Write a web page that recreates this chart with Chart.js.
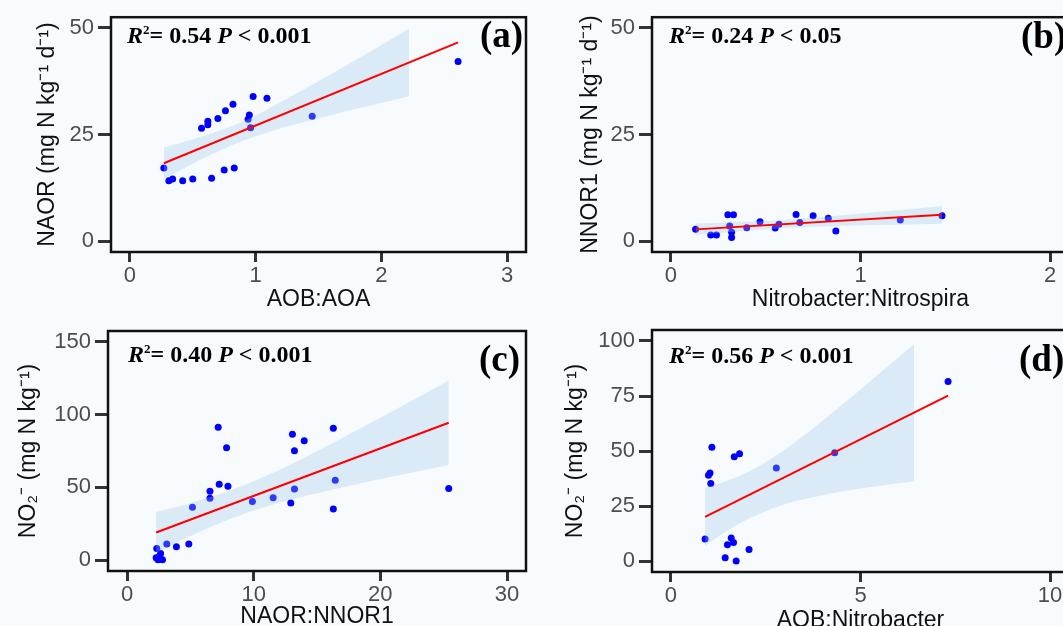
<!DOCTYPE html>
<html>
<head>
<meta charset="utf-8">
<script src="https://cdn.jsdelivr.net/npm/chart.js@4.4.1/dist/chart.umd.min.js"></script>
<style>
  html, body { margin: 0; padding: 0; background: #f8fbfd; overflow: hidden; width: 1063px; height: 626px; }
  canvas { position: absolute; }
</style>
</head>
<body>
<canvas id="panelA" width="530" height="313" style="left:0;top:0"></canvas>
<canvas id="panelB" width="545" height="313" style="left:530px;top:0"></canvas>
<canvas id="panelC" width="530" height="320" style="left:0;top:310px"></canvas>
<canvas id="panelD" width="545" height="324" style="left:530px;top:310px"></canvas>
<script>
// (a) NAOR vs AOB:AOA
const aobAoa = [0.27, 0.31, 0.34, 0.42, 0.50, 0.65, 0.75, 0.83, 0.57, 0.62, 0.62, 0.70, 0.76, 0.82, 0.94, 0.95, 0.96, 0.98, 1.09, 1.45, 2.61];
const naor   = [17.2, 14.2, 14.6, 14.2, 14.6, 14.8, 16.7, 17.2, 26.5, 28.1, 27.3, 28.8, 30.6, 32.1, 28.6, 29.6, 26.6, 33.9, 33.5, 29.3, 42.1];
const aFitX = [0.27, 2.61];
const aFitY = [18.3, 46.6];
const aBandX  = [0.27, 0.5, 0.82, 1.0, 1.25, 1.5, 1.75, 2.0, 2.22];
const aBandHi = [22.0, 23.9, 27.1, 29.5, 33.4, 37.5, 41.7, 46.0, 49.8];
const aBandLo = [14.6, 18.2, 22.6, 24.6, 26.9, 28.8, 30.7, 32.4, 34.0];
const aXTicks = [0, 1, 2, 3];
const aYTicks = [0, 25, 50];

// (b) NNOR1 vs Nitrobacter:Nitrospira
const nbNs  = [0.13, 0.21, 0.24, 0.30, 0.33, 0.31, 0.32, 0.32, 0.40, 0.47, 0.55, 0.57, 0.66, 0.68, 0.75, 0.83, 0.87, 1.21, 1.43];
const nnor1 = [2.8, 1.5, 1.5, 6.2, 6.2, 3.6, 2.1, 0.9, 3.2, 4.6, 3.1, 4.0, 6.3, 4.4, 6.0, 5.4, 2.4, 5.0, 6.0];
const bFitX = [0.13, 1.43];
const bFitY = [2.8, 6.2];
const bBandX  = [0.13, 0.35, 0.56, 0.8, 1.1, 1.43];
const bBandHi = [4.2, 4.5, 4.9, 5.7, 6.9, 8.3];
const bBandLo = [1.5, 2.3, 3.0, 3.5, 3.8, 4.1];
const bXTicks = [0, 1, 2];
const bYTicks = [0, 25, 50];

// (c) NO2- vs NAOR:NNOR1
const naorNnor = [2.30, 2.45, 2.55, 2.65, 2.80, 2.35, 3.14, 3.90, 4.88, 5.17, 6.55, 6.55, 7.20, 7.28, 7.86, 7.97, 9.90, 11.54, 12.93, 13.06, 13.22, 13.22, 13.99, 16.29, 16.29, 16.44, 25.40];
const no2C     = [1.6, 0.3, 2.5, 4.5, 0.2, 8.0, 11.0, 9.2, 11.0, 36.3, 47.4, 42.5, 91.4, 52.1, 77.2, 50.7, 40.2, 42.8, 39.3, 86.5, 75.1, 48.8, 82.0, 90.6, 35.1, 54.9, 49.3];
const cFitX = [2.3, 25.4];
const cFitY = [19.0, 94.4];
const cBandX  = [2.3, 5, 8.5, 12, 16, 20, 25.4];
const cBandHi = [33.0, 39.1, 49.0, 62.0, 79.3, 97.8, 123.4];
const cBandLo = [5.0, 16.5, 29.4, 39.4, 48.1, 55.8, 65.4];
const cXTicks = [0, 10, 20, 30];
const cYTicks = [0, 50, 100, 150];

// (d) NO2- vs AOB:Nitrobacter
const aobNb = [0.90, 0.99, 1.03, 1.05, 1.08, 1.43, 1.49, 1.59, 1.65, 1.67, 1.72, 1.81, 2.06, 2.78, 4.32, 7.31];
const no2D  = [10.0, 39.0, 40.0, 35.2, 51.7, 1.5, 7.4, 10.5, 8.4, 47.4, 0.0, 48.7, 5.2, 42.3, 49.2, 81.6];
const dFitX = [0.9, 7.31];
const dFitY = [20.1, 75.2];
const dBandX  = [0.9, 1.5, 2.06, 3, 4, 5, 6.42];
const dBandHi = [33.3, 36.6, 40.7, 50.6, 63.7, 77.9, 98.8];
const dBandLo = [6.9, 14.0, 19.3, 25.8, 29.9, 32.9, 36.4];
const dXTicks = [0, 5, 10];
const dYTicks = [0, 25, 50, 75, 100];

const SANS = "'Liberation Sans', Arial, sans-serif";
const SERIF = "'Liberation Serif', 'Times New Roman', serif";

const pts = (xs, ys) => xs.map((x, i) => ({ x: x, y: ys[i] }));

// box round the plot area, R2 text and panel letter
const panelPlugin = {
    id: 'panelDeco',
    afterDraw(chart, args, o) {
        const ctx = chart.ctx;
        const a = chart.chartArea;
        ctx.save();
        ctx.strokeStyle = '#111';
        ctx.lineWidth = 2.5;
        ctx.strokeRect(a.left, a.top, a.right - a.left, a.bottom - a.top);

        ctx.fillStyle = '#000';
        ctx.textBaseline = 'alphabetic';
        ctx.textAlign = 'left';
        const parts = [
            ['R', 'italic bold 24px ' + SERIF, 0],
            ['2', 'bold 13px ' + SERIF, -9],
            ['= ' + o.r2 + ' ', 'bold 24px ' + SERIF, 0],
            ['P', 'italic bold 24px ' + SERIF, 0],
            [' < ' + o.p, 'bold 24px ' + SERIF, 0]
        ];
        let x = o.tx;
        parts.forEach(p => {
            ctx.font = p[1];
            ctx.fillText(p[0], x, o.ty + p[2]);
            x += ctx.measureText(p[0]).width;
        });

        ctx.font = 'bold 37px ' + SERIF;
        ctx.fillText(o.letter, o.lx, o.ly);
        ctx.restore();
    }
};

function makePanel(id, p) {
    const canvas = document.getElementById(id);
    const w = canvas.width, h = canvas.height;
    new Chart(canvas, {
        type: 'scatter',
        data: {
            datasets: [
                {
                    type: 'line',
                    data: pts(p.fitX, p.fitY),
                    borderColor: '#ff0000',
                    borderWidth: 2,
                    pointRadius: 0,
                    fill: false
                },
                {
                    type: 'line',
                    data: pts(p.bandX, p.bandHi),
                    borderColor: 'transparent',
                    backgroundColor: 'rgba(150, 196, 236, 0.3)',
                    pointRadius: 0,
                    cubicInterpolationMode: 'monotone',
                    fill: '+1'
                },
                {
                    type: 'line',
                    data: pts(p.bandX, p.bandLo),
                    borderColor: 'transparent',
                    pointRadius: 0,
                    cubicInterpolationMode: 'monotone',
                    fill: false
                },
                {
                    data: pts(p.xs, p.ys),
                    backgroundColor: '#0000ff',
                    borderWidth: 0,
                    pointRadius: 3.5
                }
            ]
        },
        options: {
            responsive: false,
            animation: false,
            layout: { padding: { top: p.box[1], right: w - p.box[2], left: 0, bottom: 0 } },
            plugins: {
                legend: { display: false },
                tooltip: { enabled: false },
                panelDeco: p.deco
            },
            scales: {
                x: {
                    type: 'linear',
                    min: p.xRange[0],
                    max: p.xRange[1],
                    afterBuildTicks: s => { s.ticks = p.xTicks.map(v => ({ value: v })); },
                    afterFit: s => { s.height = h - p.box[3]; },
                    grid: { display: true, drawOnChartArea: false, drawTicks: true, tickLength: 10, tickWidth: 3, tickColor: '#333' },
                    border: { display: false },
                    ticks: { color: '#4d4d4d', padding: 1, maxRotation: 0, font: { family: SANS, size: 22 } },
                    title: { display: true, text: p.xTitle, color: '#111', padding: { top: 0, bottom: 0 }, font: { family: SANS, size: 23 } }
                },
                y: {
                    type: 'linear',
                    min: p.yRange[0],
                    max: p.yRange[1],
                    afterBuildTicks: s => { s.ticks = p.yTicks.map(v => ({ value: v })); },
                    afterFit: s => { s.width = p.box[0]; },
                    grid: { display: true, drawOnChartArea: false, drawTicks: true, tickLength: 13, tickWidth: 3, tickColor: '#333' },
                    border: { display: false },
                    ticks: { color: '#4d4d4d', padding: 4, font: { family: SANS, size: 22 } },
                    title: { display: true, text: p.yTitle, color: '#111', padding: { top: p.yTitlePad, bottom: 0 }, font: { family: SANS, size: 23 } }
                }
            }
        },
        plugins: [panelPlugin]
    });
}

makePanel('panelA', {
    xs: aobAoa, ys: naor, fitX: aFitX, fitY: aFitY,
    bandX: aBandX, bandHi: aBandHi, bandLo: aBandLo,
    xTicks: aXTicks, yTicks: aYTicks,
    xRange: [-0.15, 3.15], yRange: [-2.5, 52.5],
    box: [111, 11, 529, 252], yTitlePad: 34,
    xTitle: 'AOB:AOA', yTitle: 'NAOR (mg N kg\u207B\u00B9 d\u207B\u00B9)',
    deco: { r2: '0.54', p: '0.001', letter: '(a)', tx: 127, ty: 43, lx: 480, ly: 47 }
});

makePanel('panelB', {
    xs: nbNs, ys: nnor1, fitX: bFitX, fitY: bFitY,
    bandX: bBandX, bandHi: bBandHi, bandLo: bBandLo,
    xTicks: bXTicks, yTicks: bYTicks,
    xRange: [-0.1, 2.1], yRange: [-2.5, 52.5],
    box: [122, 11, 539, 252], yTitlePad: 47,
    xTitle: 'Nitrobacter:Nitrospira', yTitle: 'NNOR1 (mg N kg\u207B\u00B9 d\u207B\u00B9)',
    deco: { r2: '0.24', p: '0.05', letter: '(b)', tx: 139, ty: 43, lx: 491, ly: 48 }
});

makePanel('panelC', {
    xs: naorNnor, ys: no2C, fitX: cFitX, fitY: cFitY,
    bandX: cBandX, bandHi: cBandHi, bandLo: cBandLo,
    xTicks: cXTicks, yTicks: cYTicks,
    xRange: [-1.5, 31.5], yRange: [-7.5, 157.5],
    box: [108, 21, 529, 261], yTitlePad: 15,
    xTitle: 'NAOR:NNOR1', yTitle: 'NO\u2082\u207B (mg N kg\u207B\u00B9)',
    deco: { r2: '0.40', p: '0.001', letter: '(c)', tx: 128, ty: 52, lx: 479, ly: 61 }
});

makePanel('panelD', {
    xs: aobNb, ys: no2D, fitX: dFitX, fitY: dFitY,
    bandX: dBandX, bandHi: dBandHi, bandLo: dBandLo,
    xTicks: dXTicks, yTicks: dYTicks,
    xRange: [-0.5, 10.5], yRange: [-5, 105],
    box: [122, 20, 539, 262], yTitlePad: 32,
    xTitle: 'AOB:Nitrobacter', yTitle: 'NO\u2082\u207B (mg N kg\u207B\u00B9)',
    deco: { r2: '0.56', p: '0.001', letter: '(d)', tx: 139, ty: 53, lx: 489, ly: 61 }
});
</script>
</body>
</html>
